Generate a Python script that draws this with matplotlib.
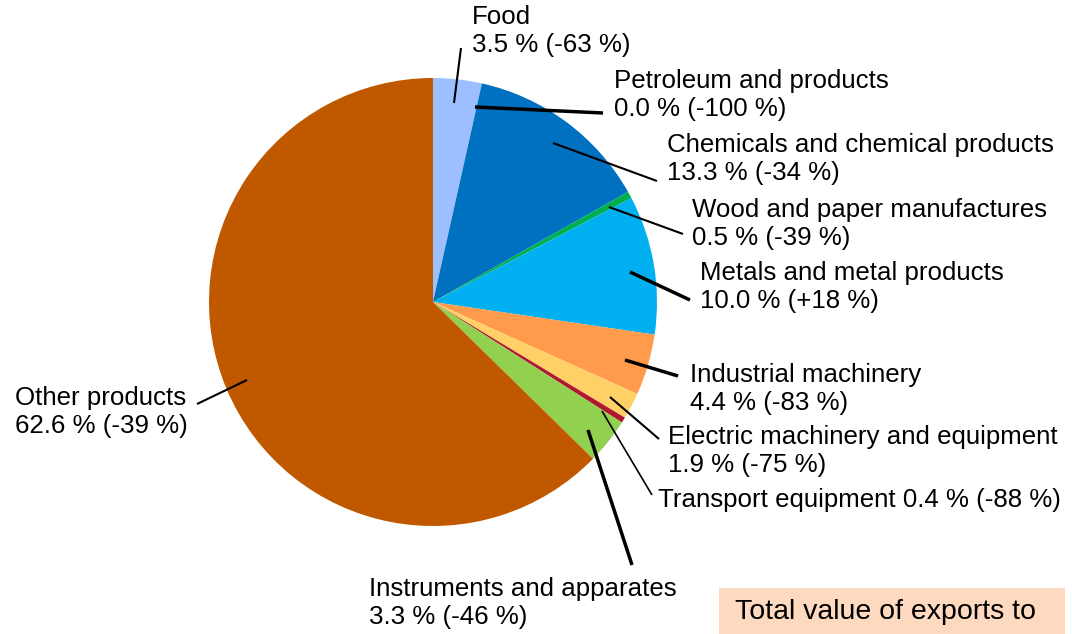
import matplotlib.pyplot as plt
from matplotlib.patches import Rectangle

plt.rcParams['font.family'] = ['Liberation Sans', 'DejaVu Sans']

# Data
# --------------------------------------------------------------------------
categories = ['Food', 'Petroleum and products', 'Chemicals and chemical products',
              'Wood and paper manufactures', 'Metals and metal products',
              'Industrial machinery', 'Electric machinery and equipment',
              'Transport equipment', 'Instruments and apparates', 'Other products']
shares = [3.5, 0.0, 13.3, 0.5, 10.0, 4.4, 1.9, 0.4, 3.3, 62.6]
changes = ['-63', '-100', '-34', '-39', '+18', '-83', '-75', '-88', '-46', '-39']
colors = ['#9DBFFF', '#1F3F7F', '#0070C0', '#00B050', '#00B0F0',
          '#FF9B4A', '#FFD066', '#B01830', '#92D050', '#C05800']

# Label layout (pixels, y measured from top), leader line start/end
label_pos = [(472, 31), (614, 95), (667, 159), (692, 224), (700, 287),
             (690, 389), (668, 451), (658, 500), (369, 603), (15, 412)]
one_line = [False] * 10
one_line[7] = True
leaders = [((454, 103), (461, 48), 1.5), ((475, 107), (603, 113), 2.5),
           ((553, 143), (657, 181), 1.5), ((609, 207), (683, 234), 1.5),
           ((630, 272), (690, 300), 2.5), ((625, 360), (678, 376), 2.5),
           ((610, 397), (659, 439), 1.5), ((602, 411), (652, 495), 1.2),
           ((588, 430), (632, 565), 2.5), ((247, 380), (197, 404), 1.5)]

W, H = 1072, 634
cx, cy, r = 433, 302, 224

fig = plt.figure(figsize=(W / 100, H / 100), dpi=100)
ax = fig.add_axes([0, 0, 1, 1])

ax.pie(shares, colors=colors, startangle=90, counterclock=False,
       center=(cx, H - cy), radius=r, frame=True,
       wedgeprops=dict(linewidth=0))
ax.set_xlim(0, W)
ax.set_ylim(0, H)
ax.set_aspect('equal')
ax.axis('off')

for (p0, p1, lw) in leaders:
    ax.plot([p0[0], p1[0]], [H - p0[1], H - p1[1]], color='black', lw=lw,
            solid_capstyle='butt')

for i, cat in enumerate(categories):
    x, y = label_pos[i]
    if one_line[i]:
        txt = f'{cat} {shares[i]:.1f} % ({changes[i]} %)'
    else:
        txt = f'{cat}\n{shares[i]:.1f} % ({changes[i]} %)'
    ax.text(x, H - y, txt, fontsize=18.6, ha='left', va='center',
            linespacing=1.16)

# Total box (cut by the image border)
ax.add_patch(Rectangle((719, 0), 346, 46, facecolor='#FDD9BF', edgecolor='none'))
ax.text(735, H - 612, 'Total value of exports to', fontsize=20.5, ha='left',
        va='center')

plt.savefig('out.png', dpi=100)
